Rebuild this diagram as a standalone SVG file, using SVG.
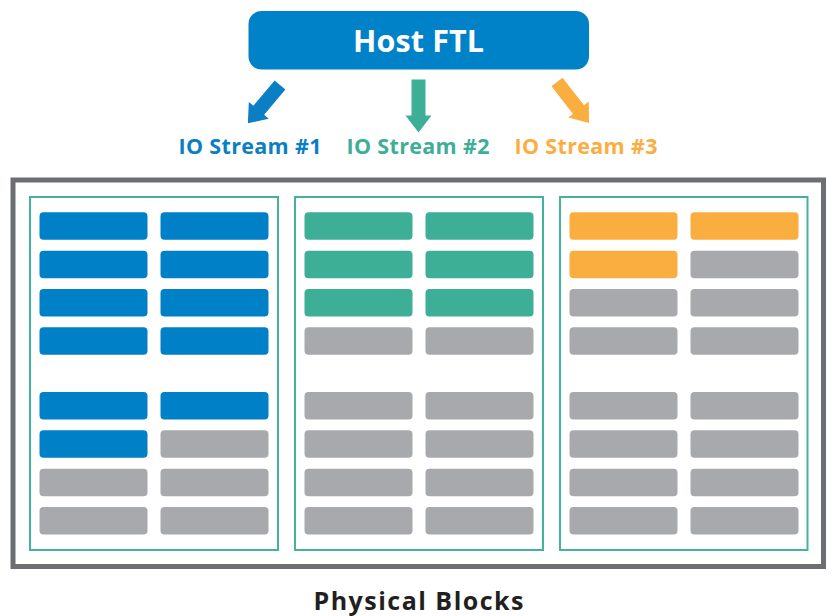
<svg xmlns="http://www.w3.org/2000/svg" width="832" height="616" viewBox="0 0 832 616">
<defs>
<style>
.lbl{font-family:"Open Sans","Noto Sans","Liberation Sans",sans-serif;font-weight:700;text-anchor:middle}
.panel{fill:none;stroke:#45b39b;stroke-width:2}
.b{fill:#0080c6}
.g{fill:#3daf97}
.o{fill:#fbae40}
.x{fill:#a7a9ac}
</style>
<g id="blk">
<rect width="108" height="27.5" rx="4"/>
</g>
</defs>
<rect width="832" height="616" fill="#ffffff"/>

<g id="host-ftl">
<rect x="248.5" y="11" width="340.5" height="58.5" rx="13" fill="#0082c8"/>
<text class="lbl" x="418.5" y="52" font-size="30.5" fill="#ffffff" textLength="131" lengthAdjust="spacing">Host FTL</text>
</g>

<g id="connectors">
<path transform="translate(280,85) rotate(40)" d="M-7,0 H7 V33 H13 L0,50 L-13,33 H-7 Z" fill="#0a7fc4"/>
<path transform="translate(418.5,79.5)" d="M-7,0 H7 V36 H13 L0,53 L-13,36 H-7 Z" fill="#3daf97"/>
<path transform="translate(557,82) rotate(-38)" d="M-7,0 H7 V35 H13 L0,52 L-13,35 H-7 Z" fill="#fbae40"/>
</g>

<g id="stream-labels">
<text class="lbl" x="250" y="154" font-size="21.5" fill="#0a7fc4" textLength="143" lengthAdjust="spacing">IO Stream #1</text>
<text class="lbl" x="418" y="154" font-size="21.5" fill="#3fae96" textLength="143" lengthAdjust="spacing">IO Stream #2</text>
<text class="lbl" x="586" y="154" font-size="21.5" fill="#fbae3f" textLength="143" lengthAdjust="spacing">IO Stream #3</text>
</g>

<g id="physical-blocks">
<rect x="13" y="180" width="810.5" height="386.5" fill="none" stroke="#6d6e71" stroke-width="5"/>

<g id="panel-1">
<rect class="panel" x="30" y="197" width="248" height="353"/>
<use href="#blk" class="b" x="39.5" y="212.3"/><use href="#blk" class="b" x="160.5" y="212.3"/>
<use href="#blk" class="b" x="39.5" y="250.7"/><use href="#blk" class="b" x="160.5" y="250.7"/>
<use href="#blk" class="b" x="39.5" y="289"/><use href="#blk" class="b" x="160.5" y="289"/>
<use href="#blk" class="b" x="39.5" y="327.3"/><use href="#blk" class="b" x="160.5" y="327.3"/>
<use href="#blk" class="b" x="39.5" y="392"/><use href="#blk" class="b" x="160.5" y="392"/>
<use href="#blk" class="b" x="39.5" y="430.3"/><use href="#blk" class="x" x="160.5" y="430.3"/>
<use href="#blk" class="x" x="39.5" y="468.7"/><use href="#blk" class="x" x="160.5" y="468.7"/>
<use href="#blk" class="x" x="39.5" y="507"/><use href="#blk" class="x" x="160.5" y="507"/>
</g>

<g id="panel-2">
<rect class="panel" x="295" y="197" width="248" height="353"/>
<use href="#blk" class="g" x="304.5" y="212.3"/><use href="#blk" class="g" x="425.5" y="212.3"/>
<use href="#blk" class="g" x="304.5" y="250.7"/><use href="#blk" class="g" x="425.5" y="250.7"/>
<use href="#blk" class="g" x="304.5" y="289"/><use href="#blk" class="g" x="425.5" y="289"/>
<use href="#blk" class="x" x="304.5" y="327.3"/><use href="#blk" class="x" x="425.5" y="327.3"/>
<use href="#blk" class="x" x="304.5" y="392"/><use href="#blk" class="x" x="425.5" y="392"/>
<use href="#blk" class="x" x="304.5" y="430.3"/><use href="#blk" class="x" x="425.5" y="430.3"/>
<use href="#blk" class="x" x="304.5" y="468.7"/><use href="#blk" class="x" x="425.5" y="468.7"/>
<use href="#blk" class="x" x="304.5" y="507"/><use href="#blk" class="x" x="425.5" y="507"/>
</g>

<g id="panel-3">
<rect class="panel" x="560" y="197" width="247.5" height="353"/>
<use href="#blk" class="o" x="569.5" y="212.3"/><use href="#blk" class="o" x="690.5" y="212.3"/>
<use href="#blk" class="o" x="569.5" y="250.7"/><use href="#blk" class="x" x="690.5" y="250.7"/>
<use href="#blk" class="x" x="569.5" y="289"/><use href="#blk" class="x" x="690.5" y="289"/>
<use href="#blk" class="x" x="569.5" y="327.3"/><use href="#blk" class="x" x="690.5" y="327.3"/>
<use href="#blk" class="x" x="569.5" y="392"/><use href="#blk" class="x" x="690.5" y="392"/>
<use href="#blk" class="x" x="569.5" y="430.3"/><use href="#blk" class="x" x="690.5" y="430.3"/>
<use href="#blk" class="x" x="569.5" y="468.7"/><use href="#blk" class="x" x="690.5" y="468.7"/>
<use href="#blk" class="x" x="569.5" y="507"/><use href="#blk" class="x" x="690.5" y="507"/>
</g>
</g>

<g id="caption">
<text class="lbl" x="418.5" y="610" font-size="25" fill="#231f20" textLength="210" lengthAdjust="spacing">Physical Blocks</text>
</g>
</svg>
